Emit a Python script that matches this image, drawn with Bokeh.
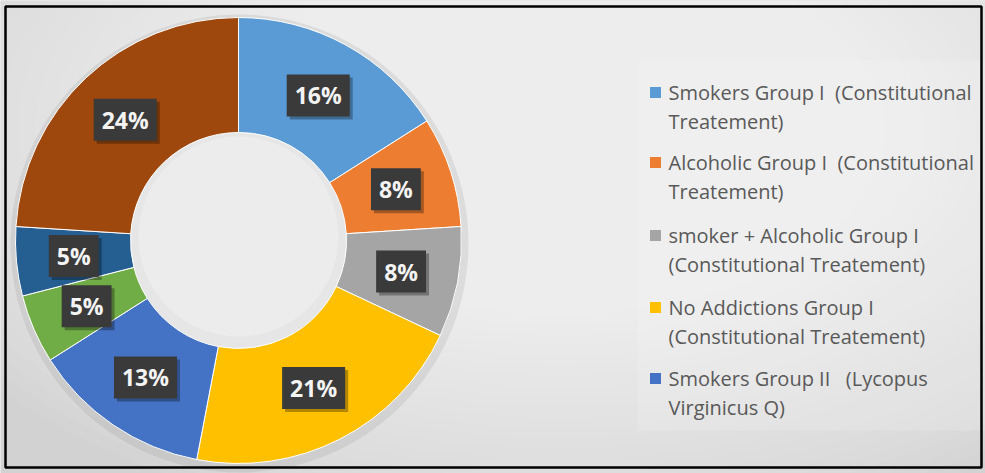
import numpy as np
from bokeh.plotting import figure
from bokeh.models import Range1d, ColumnDataSource
from bokeh.core.properties import value
from bokeh.embed import file_html
from bokeh.resources import INLINE

# ---------------- data ----------------
categories = [
    "Smokers Group I  (Constitutional Treatement)",
    "Alcoholic Group I  (Constitutional Treatement)",
    "smoker + Alcoholic Group I (Constitutional Treatement)",
    "No Addictions Group I (Constitutional Treatement)",
    "Smokers Group II   (Lycopus Virginicus Q)",
    "Alcoholic Group II (Lycopus Virginicus Q)",
    "smoker + Alcoholic Group II (Lycopus Virginicus Q)",
    "No Addictions Group II (Lycopus Virginicus Q)",
]
percentages = [16, 8, 8, 21, 13, 5, 5, 24]
colors = ["#5B9BD5", "#ED7D31", "#A5A5A5", "#FFC000",
          "#4472C4", "#70AD47", "#255E91", "#9E480E"]
# legend as visible in the picture (first five entries, wrapped in two lines)
legend_lines = [
    ["Smokers Group I\u00a0 (Constitutional", "Treatement)"],
    ["Alcoholic Group I\u00a0 (Constitutional", "Treatement)"],
    ["smoker + Alcoholic Group I", "(Constitutional Treatement)"],
    ["No Addictions Group I", "(Constitutional Treatement)"],
    ["Smokers Group II\u00a0\u00a0 (Lycopus", "Virginicus Q)"],
]

# ---------------- layout ----------------
W, H = 985, 473
CX, CY = 238, H - 240
R_OUT, R_IN = 223, 108

p = figure(width=W, height=H, output_backend="svg", toolbar_location=None,
           x_range=Range1d(0, W), y_range=Range1d(0, H),
           x_axis_location=None, y_axis_location=None, min_border=0,
           background_fill_color="#D2D2D2", border_fill_color="#D2D2D2")
p.grid.visible = False
p.outline_line_color = None

# soft radial highlight of the background
n_layers = 40
for i in range(n_layers):
    f = 1 - i / n_layers
    p.ellipse(x=560, y=H - 130, width=1450 * f, height=820 * f,
              fill_color="white", fill_alpha=0.05, line_color=None)

# legend panel
p.quad(left=637, right=W, top=H - 60, bottom=H - 430,
       fill_color="white", fill_alpha=0.15, line_color=None)

# donut shadow (outer halo)
p.annular_wedge(x=CX + 1, y=CY - 3, inner_radius=R_OUT - 6, outer_radius=R_OUT + 6,
                start_angle=0, end_angle=2 * np.pi,
                fill_color="#7A7A7A", fill_alpha=0.14, line_color=None)

# donut hole
p.circle(x=CX, y=CY, radius=R_IN, fill_color="#E6E6E6", line_color=None)
p.circle(x=CX, y=CY + 4, radius=R_IN - 8, fill_color="#EEEEEE", fill_alpha=0.8, line_color=None)

# donut
vals = np.array(percentages, dtype=float)
frac = vals / vals.sum()
cum = np.concatenate([[0], np.cumsum(frac)])
start = np.pi / 2 - 2 * np.pi * cum[:-1]
end = np.pi / 2 - 2 * np.pi * cum[1:]
mid = (start + end) / 2
r_mid = (R_IN + R_OUT) / 2

src = ColumnDataSource(dict(start=start, end=end, color=colors, cat=categories,
                            lx=CX + r_mid * np.cos(mid), ly=CY + r_mid * np.sin(mid),
                            lab=[f"{v:g}%" for v in percentages]))
p.annular_wedge(x=CX, y=CY, inner_radius=R_IN, outer_radius=R_OUT,
                start_angle="start", end_angle="end", direction="clock",
                fill_color="color", line_color="white", line_width=1, source=src)

# data labels: shadow then dark box
p.text(x="lx", y="ly", text="lab", source=src, x_offset=3, y_offset=3,
       text_font=value("Open Sans"), text_font_style="bold",
       text_font_size="23px", text_color="black", text_alpha=0.0,
       text_align="center", text_baseline="middle",
       background_fill_color="black", background_fill_alpha=0.3,
       padding=dict(x=8, y=5))
p.text(x="lx", y="ly", text="lab", source=src,
       text_font=value("Open Sans"), text_font_style="bold",
       text_font_size="23px", text_color="#F4F4F4",
       text_align="center", text_baseline="middle",
       background_fill_color="#3A3A3A", padding=dict(x=8, y=5))

# legend
ys = [H - 92, H - 162, H - 235, H - 307, H - 378]
LINE = 29
for i, lines in enumerate(legend_lines):
    y0 = ys[i]
    p.rect(x=655, y=y0, width=11, height=11, fill_color=colors[i], line_color=None)
    p.text(x=[668] * len(lines), y=[y0 - k * LINE for k in range(len(lines))],
           text=lines, text_font=value("Open Sans"), text_font_size="20px",
           text_color="#595959", text_align="left", text_baseline="middle")

# outer frame
p.quad(left=5, right=981, top=H - 6, bottom=H - 467,
       fill_color=None, line_color="black", line_width=2.5)

open("out.html", "w").write(file_html(p, INLINE))
